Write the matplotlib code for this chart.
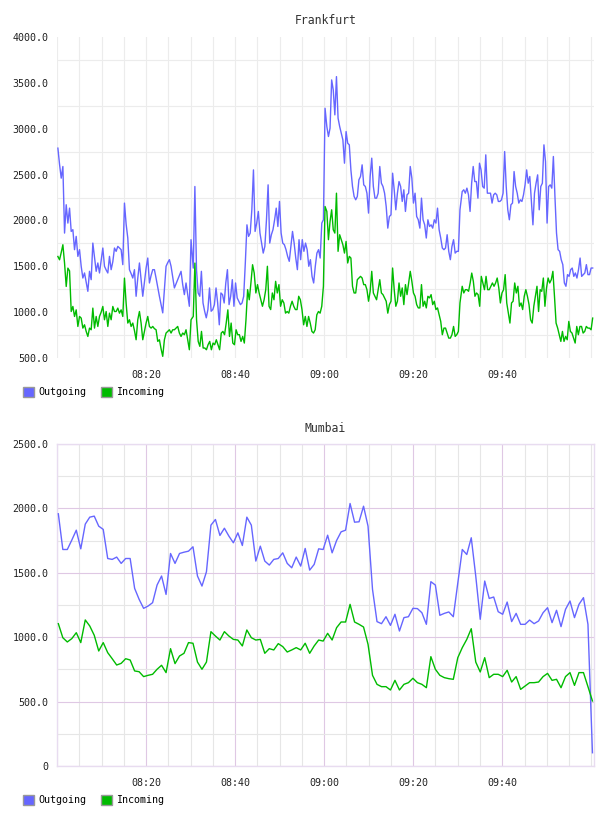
import numpy as np
import matplotlib.pyplot as plt
from matplotlib.patches import Patch
from matplotlib.ticker import FixedLocator, MultipleLocator, FuncFormatter

plt.rcParams['font.family'] = 'DejaVu Sans Mono'

# ===== Frankfurt: values read in four ~30 min chunks (minutes after 08:00) =====
fra_spans = [(0.2, 30.1), (30.6, 60.2), (60.6, 90.5), (91.0, 120.3)]

fra_out_a = [2788, 2610, 2461, 2588, 1862, 2171, 1971, 2134, 1880, 1899, 1681, 1826, 1608, 1681,
             1500, 1372, 1427, 1330, 1227, 1445, 1354, 1753, 1600, 1445, 1536, 1427, 1560, 1699,
             1500, 1460, 1427, 1608, 1463, 1550, 1699, 1663, 1717, 1700, 1681, 1518, 2189, 1960,
             1808, 1463, 1420, 1372, 1463, 1173, 1370, 1536, 1350, 1173, 1330, 1480, 1590, 1318,
             1400, 1463, 1463, 1370, 1270, 1173, 1080, 992, 1250, 1500, 1540, 1572, 1500, 1380,
             1264, 1310, 1354, 1400, 1445, 1300, 1191, 1318, 1190, 1064, 1790]
fra_out_b = [1480, 2370, 1463, 1209, 1173, 1445, 1100, 1010, 938, 1028, 1264, 1010, 1028, 1082,
             1264, 1100, 862, 1209, 1191, 1100, 1318, 1463, 1082, 1173, 1354, 1064, 1318, 1155,
             1119, 1082, 1100, 1173, 1536, 1952, 1826, 1862, 2116, 2551, 1880, 1971, 2098, 1862,
             1753, 1644, 1717, 2007, 2388, 1753, 1844, 1899, 2007, 2134, 1934, 2207, 1862, 1753,
             1735, 1681, 1608, 1554, 1717, 1880, 1753, 1590, 1463, 1790, 1572, 1790, 1663, 1753,
             1681, 1500, 1572, 1390, 1318, 1500, 1644, 1681, 1590, 1971, 2007, 3223]
fra_out_c = [3024, 2915, 3006, 3532, 3423, 3151, 3568, 3115, 3024, 2951, 2878, 2624, 2969, 2842,
             2824, 2551, 2370, 2261, 2225, 2261, 2443, 2479, 2606, 2388, 2370, 2297, 2080, 2479,
             2679, 2370, 2243, 2243, 2297, 2588, 2406, 2370, 2297, 2152, 1916, 2043, 2061, 2515,
             2334, 2116, 2297, 2424, 2370, 2207, 2334, 2098, 2279, 2297, 2588, 2461, 2189, 2297,
             2043, 2007, 1916, 2243, 2007, 1952, 1808, 2007, 1934, 1952, 1916, 2007, 1971, 2134,
             1899, 1808, 1699, 1681, 1699, 1844, 1663, 1572, 1717, 1790, 1644, 1663, 1663, 2116]
fra_out_d = [2315, 2334, 2297, 2352, 2279, 2098, 2406, 2588, 2424, 2424, 2243, 2624, 2551, 2370,
             2352, 2715, 2297, 2297, 2297, 2189, 2279, 2297, 2279, 2207, 2207, 2225, 2297, 2751,
             2370, 2116, 2007, 2171, 2189, 2533, 2370, 2297, 2189, 2225, 2207, 2279, 2388, 2551,
             2406, 2479, 2207, 1952, 2297, 2406, 2497, 2116, 2370, 2406, 2824, 2642, 1971, 2370,
             2388, 2352, 2697, 2261, 1862, 1681, 1663, 1572, 1518, 1318, 1282, 1409, 1390, 1463,
             1481, 1390, 1427, 1372, 1463, 1590, 1390, 1409, 1427, 1518, 1409, 1409, 1481, 1481]

fra_inc_a = [1607, 1571, 1650, 1735, 1535, 1280, 1480, 1450, 1007, 1062, 953, 1025, 844, 953,
             935, 826, 862, 790, 735, 826, 808, 1044, 826, 953, 844, 953, 1000, 1062, 917, 1007,
             844, 989, 917, 1062, 1007, 1007, 1044, 989, 1025, 953, 1371, 1098, 881, 917, 844,
             881, 800, 699, 917, 1007, 881, 699, 790, 881, 953, 844, 826, 844, 820, 808, 681,
             699, 600, 518, 699, 772, 790, 808, 772, 808, 808, 826, 844, 772, 735, 772, 754, 808,
             700, 590, 917]
fra_inc_b = [953, 1535, 917, 681, 627, 790, 609, 609, 590, 645, 681, 590, 663, 645, 699, 645, 590,
             772, 790, 754, 881, 1025, 735, 881, 663, 645, 808, 754, 754, 681, 735, 663, 917, 1245,
             1135, 1318, 1517, 1426, 1209, 1300, 1209, 1135, 1064, 1135, 1245, 1500, 1064, 1028,
             1209, 1135, 1336, 1209, 1300, 1064, 1135, 1100, 989, 1007, 989, 1064, 1119, 1064,
             1028, 1028, 1173, 1135, 1028, 862, 953, 844, 953, 881, 790, 772, 808, 971, 1007, 989,
             1064, 1282, 2152]
fra_inc_c = [2098, 1790, 1989, 2116, 1899, 1862, 2297, 1663, 1844, 1790, 1735, 1644, 1771, 1536,
             1608, 1590, 1282, 1209, 1209, 1354, 1372, 1390, 1372, 1300, 1300, 1245, 1119, 1227,
             1445, 1209, 1173, 1135, 1245, 1354, 1209, 1191, 1155, 1119, 989, 1082, 1119, 1481,
             1245, 1064, 1119, 1318, 1173, 1264, 1082, 1300, 1191, 1318, 1445, 1336, 1209, 1173,
             1082, 1046, 1046, 1300, 1064, 1119, 1046, 1173, 1155, 1191, 1082, 1119, 1028, 1046,
             971, 899, 754, 826, 826, 772, 717, 717, 754, 844, 735, 754, 790, 1100]
fra_inc_d = [1282, 1209, 1245, 1245, 1227, 1318, 1426, 1336, 1173, 1209, 1191, 1064, 1390, 1318,
             1245, 1390, 1245, 1245, 1282, 1318, 1282, 1318, 1372, 1264, 1100, 1209, 1245, 1409,
             1100, 989, 881, 1100, 1119, 1318, 1209, 1282, 1064, 1100, 1028, 1173, 1245, 1173,
             1082, 917, 881, 1064, 1173, 1282, 1007, 1245, 1227, 1372, 1064, 1264, 1372, 1318,
             1354, 1445, 1173, 881, 826, 754, 681, 790, 681, 735, 699, 899, 790, 772, 717, 663,
             844, 754, 844, 844, 772, 790, 844, 826, 826, 808, 935]

# ===== Mumbai: one value per minute =====
mum_span = (0.3, 120.25)
mum_out = [1958, 1681, 1681, 1754, 1831, 1686, 1878, 1932, 1940, 1862, 1837, 1611, 1604, 1622,
           1573, 1611, 1611, 1379, 1294, 1224, 1242, 1268, 1405, 1475, 1332, 1650, 1573, 1650,
           1660, 1668, 1702, 1475, 1397, 1508, 1870, 1914, 1790, 1846, 1785, 1733, 1810, 1712,
           1932, 1870, 1591, 1707, 1591, 1560, 1604, 1611, 1655, 1573, 1539, 1622, 1552, 1689,
           1521, 1565, 1686,
           1681, 1792, 1655, 1751, 1818, 1831, 2038, 1893, 1896, 2017, 1862, 1371, 1121, 1105,
           1159, 1092, 1178, 1048, 1152, 1159, 1224, 1222, 1190, 1100, 1431, 1405, 1170, 1185,
           1196, 1159, 1420, 1681, 1642, 1772, 1475, 1139, 1436, 1301, 1312, 1198, 1178, 1273,
           1121, 1185, 1100, 1100, 1133, 1105, 1126, 1190, 1229, 1113, 1209, 1082, 1216, 1281,
           1152, 1255, 1307, 1100, 103]
mum_inc = [1105, 996, 963, 989, 1035, 958, 1134, 1087, 1015, 893, 958, 880, 833, 784, 797, 833,
           823, 738, 732, 694, 704, 712, 751, 782, 725, 911, 795, 854, 875, 958, 953, 807, 751,
           807, 1043, 1009, 978, 1043, 1009, 983, 978, 932, 1056, 996, 978, 983, 875, 911, 901,
           950, 927, 885, 901, 919, 901, 953, 875, 932, 978,
           970, 1030, 978, 1074, 1118, 1118, 1255, 1118, 1100, 1079, 945, 704, 634, 616, 616,
           590, 665, 590, 634, 647, 681, 647, 634, 608, 849, 751, 704, 686, 678, 673, 841, 919,
           983, 1066, 807, 730, 841, 686, 712, 712, 694, 743, 652, 694, 595, 621, 647, 647, 652,
           694, 719, 665, 673, 608, 694, 725, 626, 725, 725, 616, 505]

BLUE = '#6666ff'
GREEN = '#00bb00'


def stitch(blocks, spans):
    t, v = [], []
    for vals, (t0, t1) in zip(blocks, spans):
        t.extend(np.linspace(t0, t1, len(vals)))
        v.extend(vals)
    return np.array(t), np.array(v)


fra_t_out, fra_out = stitch([fra_out_a, fra_out_b, fra_out_c, fra_out_d], fra_spans)
fra_t_inc, fra_inc = stitch([fra_inc_a, fra_inc_b, fra_inc_c, fra_inc_d], fra_spans)
mum_t = np.linspace(mum_span[0], mum_span[1], len(mum_out))


def hhmm(v, pos):
    m = int(round(v))
    return f"{8 + m // 60:02d}:{m % 60:02d}"


def yfmt(v, pos):
    return "0" if v == 0 else f"{v:.1f}"


def panel(ax, title, tx_out, out, tx_in, inc, ylim, fancy):
    ax.plot(tx_out, out, color=BLUE, lw=1.0, zorder=3)
    ax.plot(tx_in, inc, color=GREEN, lw=1.0, zorder=3)
    ax.set_xlim(0, 120.6)
    ax.set_ylim(*ylim)
    ax.xaxis.set_major_locator(FixedLocator([20, 40, 60, 80, 100]))
    ax.xaxis.set_minor_locator(MultipleLocator(5))
    ax.xaxis.set_major_formatter(FuncFormatter(hhmm))
    ax.yaxis.set_major_locator(MultipleLocator(500))
    ax.yaxis.set_minor_locator(FixedLocator(np.arange(ylim[0] + 250, ylim[1], 500)))
    ax.yaxis.set_major_formatter(FuncFormatter(yfmt))
    ax.tick_params(which='both', length=0, labelsize=7.2, colors='#222222')
    ax.tick_params(axis='x', pad=9)
    ax.tick_params(axis='y', pad=6)
    if fancy:
        ax.grid(which='major', color='#dfc8e4', lw=0.8)
        ax.grid(which='minor', color='#e6e6e6', lw=0.8)
        for s in ax.spines.values():
            s.set_color('#e8dcf0')
            s.set_linewidth(1.0)
    else:
        ax.grid(which='minor', color='#ececec', lw=0.8)
        ax.grid(which='major', axis='x', color='#ececec', lw=0.8)
        for s in ax.spines.values():
            s.set_visible(False)
    ax.set_axisbelow(True)
    ax.set_title(title, fontsize=8.3, color='#333333', pad=9)


fig = plt.figure(figsize=(6.08, 8.16), dpi=100)
ax1 = fig.add_axes([57 / 608, 1 - 358 / 816, 537 / 608, 321 / 816])
ax2 = fig.add_axes([57 / 608, 1 - 766 / 816, 537 / 608, 322 / 816])

panel(ax1, 'Frankfurt', fra_t_out, fra_out, fra_t_inc, fra_inc, (500, 4000), False)
panel(ax2, 'Mumbai', mum_t, mum_out, mum_t, mum_inc, (0, 2500), True)

handles = [Patch(facecolor=BLUE, edgecolor='#999999', lw=1.0, label='Outgoing'),
           Patch(facecolor=GREEN, edgecolor='#999999', lw=1.0, label='Incoming')]
for ypix in (392, 800):
    fig.legend(handles=handles, loc='center left', bbox_to_anchor=(23 / 608, 1 - ypix / 816),
               ncol=2, frameon=False, fontsize=7.2, handlelength=1.1, handleheight=1.1,
               handletextpad=0.4, columnspacing=1.5, borderaxespad=0, borderpad=0)

fig.savefig('out.png', dpi=100)
